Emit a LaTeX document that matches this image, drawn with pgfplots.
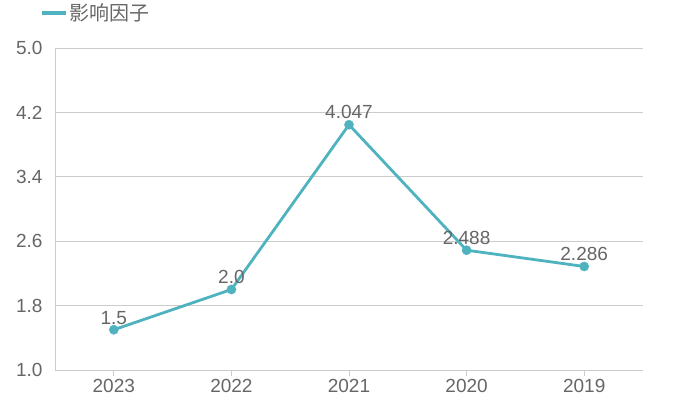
\documentclass[border=0pt]{standalone}
\usepackage{pgfplots}
\pgfplotsset{compat=1.18}
\usepackage{fontspec}
\setmainfont{Liberation Sans}
\newfontfamily\cjk{Noto Sans CJK SC}
\definecolor{teal1}{HTML}{4FB3BF}
\definecolor{txt}{HTML}{666666}
\definecolor{grid1}{HTML}{CCCCCC}
\begin{document}
\begin{tikzpicture}
\path[use as bounding box] (-55pt,-26pt) rectangle (635pt,370pt);
\begin{axis}[
  at={(0,0)}, anchor=south west,
  scale only axis, width=588pt, height=322pt,
  xmin=-0.5, xmax=4.5, ymin=1.0, ymax=5.0,
  xtick={0,1,2,3,4}, xticklabels={2023,2022,2021,2020,2019},
  ytick={1.0,1.8,2.6,3.4,4.2,5.0},
  yticklabel style={/pgf/number format/fixed, /pgf/number format/fixed zerofill, /pgf/number format/precision=1, xshift=-3pt},
  /pgf/number format/assume math mode=true,
  ymajorgrids, grid style={grid1, line width=0.8pt},
  axis x line*=bottom, axis y line*=left,
  axis line style={grid1, line width=0.8pt, -},
  x tick style={grid1, line width=0.8pt},
  major tick length=6pt,
  tick align=outside,
  ytick style={draw=none},
  tick label style={font=\fontsize{19}{21}\selectfont, color=txt},
  xticklabel style={yshift=0.5pt},
  legend style={at={(axis description cs:-0.027,1.109)}, anchor=west, draw=none, fill=none, font=\fontsize{20}{22}\selectfont\cjk, text=txt, inner sep=0pt},
  legend cell align=left,
  legend image code/.code={\draw[teal1, line width=4.5pt] (0pt,0pt) -- (24pt,0pt);},
  clip=false,
]
\addplot[teal1, line width=2.8pt, mark=*, mark size=4.6pt, mark options={solid, fill=teal1, draw=teal1, line width=0.4pt},
  nodes near coords, point meta=explicit symbolic,
  every node near coord/.append style={font=\fontsize{19}{21}\selectfont, color=txt, anchor=south, yshift=2pt}]
  coordinates {(0,1.5)[1.5] (1,2.0)[2.0] (2,4.047)[4.047] (3,2.488)[2.488] (4,2.286)[2.286]};
\addlegendentry{影响因子}
\end{axis}
\end{tikzpicture}
\end{document}
